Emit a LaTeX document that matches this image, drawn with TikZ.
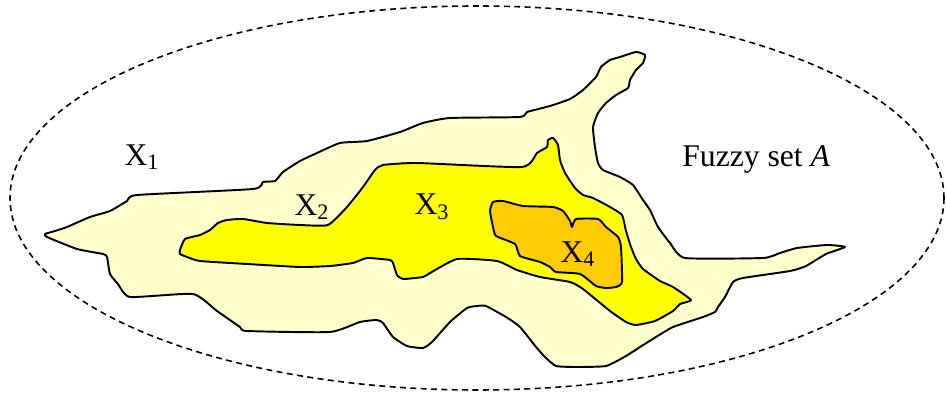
\documentclass[tikz,border=0pt]{standalone}
\usepackage{fontspec}
\setmainfont{Liberation Serif}
\usepackage{tikz}
\definecolor{paleyel}{HTML}{FFFFCC}
\definecolor{yel}{HTML}{FFFF00}
\definecolor{amber}{HTML}{FFCC00}
\tikzset{
  region/.style={draw=black,line width=1.1pt,line join=round},
  setedge/.style={draw=black,line width=0.9pt,dash pattern=on 3.4pt off 2.5pt},
  lbl/.style={font=\fontsize{18}{20}\selectfont,inner sep=0pt},
}

\begin{document}
\begin{tikzpicture}[x=0.02cm,y=-0.02cm]
  \useasboundingbox (0,0) rectangle (946,394);
  \draw[setedge] (477,198) ellipse [x radius=467, y radius=192];
  % level X1
  \filldraw[region,fill=paleyel] plot[smooth cycle,tension=0.3] coordinates {
    (45,234) (55,231) (67,227) (90,217) (110,211) (127,201) (137,195) (253,189)
    (263,182) (275,181) (283,172) (300,161) (317,153) (340,143) (367,141) (400,132)
    (423,123) (450,118) (520,117) (527,112) (550,106) (570,99) (583,90) (596,77)
    (601,67) (610,60) (620,57) (636,52) (645,55) (643,63) (636,70) (630,80)
    (628,88) (616,95) (606,103) (598,113) (593,127) (595,147) (598,163) (603,170)
    (620,177) (633,185) (643,200) (650,210) (658,227) (670,243) (685,258) (763,258)
    (780,253) (797,248) (827,245) (845,247) (826,254) (806,266) (790,271) (743,278)
    (733,282) (725,297) (718,307) (715,312) (703,317) (673,327) (656,337) (640,347)
    (626,356) (606,366) (576,367) (556,366) (545,357) (536,347) (520,327) (506,317)
    (486,306) (477,306) (467,308) (450,322) (432,342) (423,348) (407,346) (393,337)
    (383,323) (377,320) (360,322) (330,332) (247,331) (240,327) (217,311) (193,294)
    (130,297) (118,284) (110,274) (107,257) (103,254) (77,249) (47,237)};
  % level X2
  \filldraw[region,fill=yel] plot[smooth cycle,tension=0.3] coordinates {
    (180,250) (185,239) (200,235) (210,230) (218,223) (227,220) (243,219) (267,223)
    (300,225) (328,225) (347,207) (363,187) (375,170) (383,165) (417,163) (522,167)
    (537,153) (547,147) (548,140) (553,138) (558,145) (560,160) (565,173) (575,188)
    (583,195) (593,198) (610,207) (622,215) (626,231) (631,247) (636,259) (643,269)
    (660,281) (673,287) (691,300) (680,304) (673,311) (655,321) (636,325) (626,322)
    (610,311) (583,289) (570,282) (540,277) (517,270) (497,261) (457,259) (430,273)
    (423,277) (403,279) (397,275) (393,263) (390,260) (367,258) (353,263) (330,266)
    (300,267) (247,264) (200,261) (187,257) (180,254)};
  % level X3
  \filldraw[region,fill=amber] plot[smooth cycle,tension=0.3] coordinates {
    (490,211) (493,202) (503,201) (523,206) (553,207) (563,211) (570,221) (572,227)
    (576,219) (598,219) (606,227) (618,237) (621,247) (622,282) (616,287) (606,288)
    (596,286) (580,274) (556,272) (550,267) (540,262) (520,256) (515,244) (496,236)
    (493,227)};
  \node[lbl] (x1) at (142,157) {X\textsubscript{1}};
  \node[lbl] (x2) at (312,207) {X\textsubscript{2}};
  \node[lbl] (x3) at (432,207) {X\textsubscript{3}};
  \node[lbl] (x4) at (578,254) {X\textsubscript{4}};
  \node[lbl,anchor=west] (fuzzy) at (682,159) {Fuzzy set \textit{A}};
\end{tikzpicture}
\end{document}
